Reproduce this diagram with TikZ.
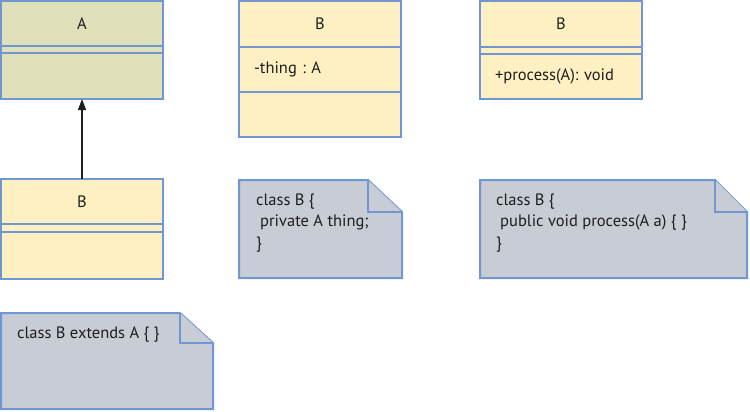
\documentclass[tikz,border=0pt]{standalone}
\usepackage{fontspec}
\setmainfont{PT Sans}
\frenchspacing
\usetikzlibrary{arrows.meta,positioning}
\definecolor{umlblue}{RGB}{112,150,212}
\definecolor{supfill}{RGB}{224,224,186}
\definecolor{subfill}{RGB}{255,240,196}
\definecolor{notefill}{RGB}{200,204,212}
\definecolor{ink}{RGB}{30,30,30}
\tikzset{
  comp/.style={draw=umlblue,line width=2pt,inner sep=0pt,outer sep=0pt,
    minimum width=162pt,text=ink,font=\fontsize{16.5}{19}\selectfont},
  supcomp/.style={comp,fill=supfill},
  subcomp/.style={comp,fill=subfill},
  member/.style={subcomp,align=left,text width=132pt,inner xsep=15pt},
  nota/.style={draw=umlblue,line width=2pt,fill=notefill,line join=miter},
  notetext/.style={anchor=west,align=left,text=ink,inner sep=0pt,
    font=\fontsize{16.5}{21.5}\selectfont}
}
\begin{document}
\begin{tikzpicture}[x=1pt,y=-1pt]
\useasboundingbox (0,0) rectangle (750,412);
% herencia
\node[supcomp,minimum height=45pt,anchor=north west] (Ah) at (1,1) {A};
\node[supcomp,minimum height=7pt,below=0pt of Ah] (Aa) {};
\node[supcomp,minimum height=46pt,below=0pt of Aa] (Ao) {};
\node[subcomp,minimum height=45pt,anchor=north west] (Bh) at (1,179) {B};
\node[subcomp,minimum height=8pt,below=0pt of Bh] (Ba) {};
\node[subcomp,minimum height=47pt,below=0pt of Ba] (Bo) {};
\draw[-{Triangle[length=11pt,width=8pt]},line width=1.5pt,ink] (Bh.north) -- (Ao.south);
\draw[nota] (1,313) -- (180,313) -- (213,343) -- (213,409) -- (1,409) -- cycle;
\draw[nota] (180,313) -- (180,343) -- (213,343);
\node[notetext] (n1) at (17,335) {class B extends A \{ \}};
% atributo
\node[subcomp,minimum height=46pt,anchor=north west] (Ch) at (239,1) {B};
\node[member,minimum height=45pt,below=0pt of Ch] (Ca) {-thing : A};
\node[subcomp,minimum height=45pt,below=0pt of Ca] (Co) {};
\draw[nota] (239,180) -- (368,180) -- (402,212) -- (402,278) -- (239,278) -- cycle;
\draw[nota] (368,180) -- (368,212) -- (402,212);
\node[notetext] (n2) at (256,223) {class B \{\\\hspace{4pt}private A thing;\\\}};
% parametro
\node[subcomp,minimum height=46pt,anchor=north west] (Dh) at (480,1) {B};
\node[subcomp,minimum height=7pt,below=0pt of Dh] (Da) {};
\node[member,minimum height=45pt,below=0pt of Da] (Do) {+process(A): void};
\draw[nota] (480,180) -- (715,180) -- (747,212) -- (747,278) -- (480,278) -- cycle;
\draw[nota] (715,180) -- (715,212) -- (747,212);
\node[notetext] (n3) at (496,223) {class B \{\\\hspace{4pt}public void process(A a) \{ \}\\\}};
\end{tikzpicture}
\end{document}
